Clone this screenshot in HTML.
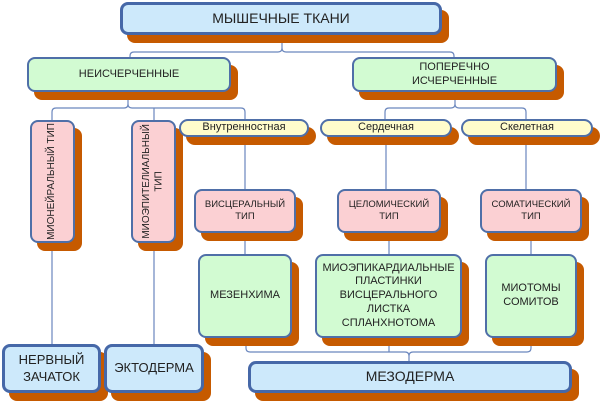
<!DOCTYPE html>
<html><head><meta charset="utf-8"><style>
body{margin:0;width:601px;height:403px;background:#fff;position:relative;overflow:hidden;font-family:"Liberation Sans",sans-serif;}
.b{position:absolute;box-sizing:border-box;border:2px solid #4f6fa8;border-radius:8px;display:flex;align-items:center;justify-content:center;text-align:center;color:#222;box-shadow:7px 8px 0 #c65a00;line-height:1.25;}
.blue{background:#cde9fb;border-width:3px;border-color:#4668a8;}
.green{background:#d2fbd2;}
.pink{background:#fbd0d3;}
.yel{background:#fffccc;border-radius:9px;}
.v{writing-mode:vertical-rl;transform:rotate(180deg);}
svg{position:absolute;left:0;top:0;}
</style></head><body>
<svg width="601" height="403" fill="none" stroke="#6a86bd" stroke-width="1.2">
<path d="M282 35V48Q282 52 278 52H134Q130 52 130 56V57M282 48Q282 52 286 52H450Q454 52 454 56V57"/>
<path d="M128 92V104Q128 108 124 108H56Q52 108 52 112V120M128 104Q128 108 132 108H241Q245 108 245 112V119M154 108V120"/>
<path d="M455 92V104Q455 108 451 108H389Q385 108 385 112V119M455 104Q455 108 459 108H522Q526 108 526 112V119"/>
<path d="M245 136V189M245 233V254M386 136V189M389 233V254M526 136V189M531 233V254"/>
<path d="M52 243V344M154 243V344"/>
<path d="M246 338V348Q246 352 250 352H405Q409 352 409 356V361M409 356Q409 352 413 352H527Q531 352 531 348V338M389 338V352"/>
</svg>
<div class="b blue" style="left:120px;top:2px;width:322px;height:33px;font-size:14px;">МЫШЕЧНЫЕ ТКАНИ</div>
<div class="b green" style="left:27px;top:57px;width:204px;height:35px;font-size:11px;">НЕИСЧЕРЧЕННЫЕ</div>
<div class="b green" style="left:352px;top:57px;width:205px;height:35px;font-size:11px;">ПОПЕРЕЧНО<br>ИСЧЕРЧЕННЫЕ</div>
<div class="b pink" style="left:30px;top:120px;width:45px;height:123px;font-size:10px;"><span class="v">МИОНЕЙРАЛЬНЫЙ ТИП</span></div>
<div class="b pink" style="left:131px;top:120px;width:45px;height:123px;font-size:10px;"><span class="v">МИОЭПИТЕЛИАЛЬНЫЙ<br>ТИП</span></div>
<div class="b yel" style="left:179px;top:119px;width:130px;height:18px;font-size:11px;">Внутренностная</div>
<div class="b yel" style="left:320px;top:119px;width:132px;height:18px;font-size:11px;">Сердечная</div>
<div class="b yel" style="left:461px;top:119px;width:132px;height:18px;font-size:11px;">Скелетная</div>
<div class="b pink" style="left:194px;top:189px;width:102px;height:44px;font-size:9.5px;">ВИСЦЕРАЛЬНЫЙ<br>ТИП</div>
<div class="b pink" style="left:337px;top:189px;width:104px;height:44px;font-size:9.5px;">ЦЕЛОМИЧЕСКИЙ<br>ТИП</div>
<div class="b pink" style="left:480px;top:189px;width:102px;height:44px;font-size:9.5px;">СОМАТИЧЕСКИЙ<br>ТИП</div>
<div class="b green" style="left:198px;top:254px;width:94px;height:84px;font-size:11px;">МЕЗЕНХИМА</div>
<div class="b green" style="left:315px;top:254px;width:147px;height:84px;font-size:11px;">МИОЭПИКАРДИАЛЬНЫЕ<br>ПЛАСТИНКИ<br>ВИСЦЕРАЛЬНОГО<br>ЛИСТКА<br>СПЛАНХНОТОМА</div>
<div class="b green" style="left:485px;top:254px;width:92px;height:84px;font-size:11px;">МИОТОМЫ<br>СОМИТОВ</div>
<div class="b blue" style="left:2px;top:344px;width:99px;height:49px;font-size:13px;">НЕРВНЫЙ<br>ЗАЧАТОК</div>
<div class="b blue" style="left:104px;top:344px;width:100px;height:49px;font-size:13px;">ЭКТОДЕРМА</div>
<div class="b blue" style="left:248px;top:361px;width:324px;height:32px;font-size:14px;">МЕЗОДЕРМА</div>
</body></html>
